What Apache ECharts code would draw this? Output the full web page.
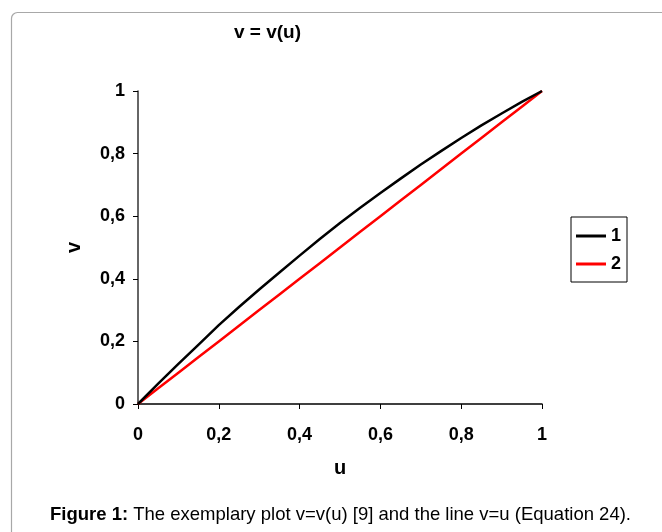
<!DOCTYPE html>
<html>
<head>
<meta charset="utf-8">
<script src="https://cdn.jsdelivr.net/npm/echarts@6/dist/echarts.min.js"></script>
<style>
    html, body { margin: 0; padding: 0; background: #fff; }
    #chart { width: 662px; height: 532px; }
</style>
</head>
<body>
<div id="chart"></div>
<script>
// u values (x axis)
const uValues = [0, 0.05, 0.1, 0.15, 0.2, 0.25, 0.3, 0.35, 0.4, 0.45, 0.5,
    0.55, 0.6, 0.65, 0.7, 0.75, 0.8, 0.85, 0.9, 0.95, 1];
// curve 1: v = v(u)
const curve1 = [0, 0.065, 0.128, 0.19, 0.252, 0.31, 0.366, 0.42, 0.474, 0.527, 0.578,
    0.627, 0.674, 0.72, 0.765, 0.808, 0.85, 0.89, 0.928, 0.965, 1];
// curve 2: the line v = u
const curve2 = [0, 0.05, 0.1, 0.15, 0.2, 0.25, 0.3, 0.35, 0.4, 0.45, 0.5,
    0.55, 0.6, 0.65, 0.7, 0.75, 0.8, 0.85, 0.9, 0.95, 1];
const seriesNames = ['1', '2'];
const seriesColors = ['#000000', '#ff0000'];

const FONT = '"Liberation Sans", Arial, sans-serif';

function pairs(xs, ys) {
    return xs.map((x, i) => [x, ys[i]]);
}

function commaLabel(val) {
    return String(+val.toFixed(1)).replace('.', ',');
}

const chart = echarts.init(document.getElementById('chart'));

const option = {
    animation: false,
    backgroundColor: '#fff',
    title: {
        text: 'v = v(u)',
        left: 234,
        top: 23,
        padding: 0,
        textStyle: { fontFamily: FONT, fontSize: 19, fontWeight: 'bold', color: '#000' }
    },
    legend: {
        orient: 'vertical',
        left: 571,
        top: 217,
        padding: [10, 6, 9, 5],
        icon: 'rect',
        itemWidth: 30,
        itemHeight: 3,
        itemGap: 10,
        borderColor: '#000',
        borderWidth: 1,
        data: seriesNames,
        textStyle: { fontFamily: FONT, fontSize: 18, fontWeight: 'bold', color: '#000', lineHeight: 18 }
    },
    grid: {
        left: 138,
        right: 120,
        top: 91,
        bottom: 128,
        containLabel: false
    },
    xAxis: {
        type: 'value',
        min: 0,
        max: 1,
        interval: 0.2,
        name: 'u',
        nameLocation: 'middle',
        nameGap: 54,
        nameTextStyle: { fontFamily: FONT, fontSize: 20, fontWeight: 'bold', color: '#000' },
        axisLine: { show: true, lineStyle: { color: '#000', width: 1.5 } },
        axisTick: { show: true, inside: false, length: 5, lineStyle: { color: '#000' } },
        axisLabel: {
            margin: 22,
            fontFamily: FONT, fontSize: 18, fontWeight: 'bold', color: '#000',
            formatter: commaLabel
        },
        splitLine: { show: false }
    },
    yAxis: {
        type: 'value',
        min: 0,
        max: 1,
        interval: 0.2,
        name: 'v',
        nameLocation: 'middle',
        nameGap: 54,
        nameRotate: 90,
        nameTextStyle: { fontFamily: FONT, fontSize: 20, fontWeight: 'bold', color: '#000' },
        axisLine: { show: true, lineStyle: { color: '#333', width: 1.5 } },
        axisTick: { show: true, inside: false, length: 5, lineStyle: { color: '#000' } },
        axisLabel: {
            margin: 13,
            fontFamily: FONT, fontSize: 18, fontWeight: 'bold', color: '#000',
            formatter: commaLabel
        },
        splitLine: { show: false }
    },
    series: [
        {
            name: seriesNames[0],
            type: 'line',
            data: pairs(uValues, curve1),
            symbol: 'none',
            smooth: false,
            z: 3,
            lineStyle: { color: seriesColors[0], width: 2.5 },
            itemStyle: { color: seriesColors[0] }
        },
        {
            name: seriesNames[1],
            type: 'line',
            data: pairs(uValues, curve2),
            symbol: 'none',
            smooth: false,
            z: 2,
            lineStyle: { color: seriesColors[1], width: 2.5 },
            itemStyle: { color: seriesColors[1] }
        }
    ],
    graphic: [
        // rounded frame around the figure
        {
            type: 'rect',
            left: 9,
            top: 10,
            shape: { width: 720, height: 600, r: 6 },
            style: { fill: 'none', stroke: '#a8a8a8', lineWidth: 1.2 },
            silent: true
        },
        // caption
        {
            type: 'text',
            left: 50,
            top: 505,
            style: {
                text: '{b|Figure 1:} The exemplary plot v=v(u) [9] and the line v=u (Equation 24).',
                font: '18.5px ' + FONT,
                fill: '#000',
                rich: {
                    b: { fontFamily: FONT, fontSize: 18.5, fontWeight: 'bold', fill: '#000' }
                }
            }
        }
    ]
};

chart.setOption(option);
</script>
</body>
</html>
